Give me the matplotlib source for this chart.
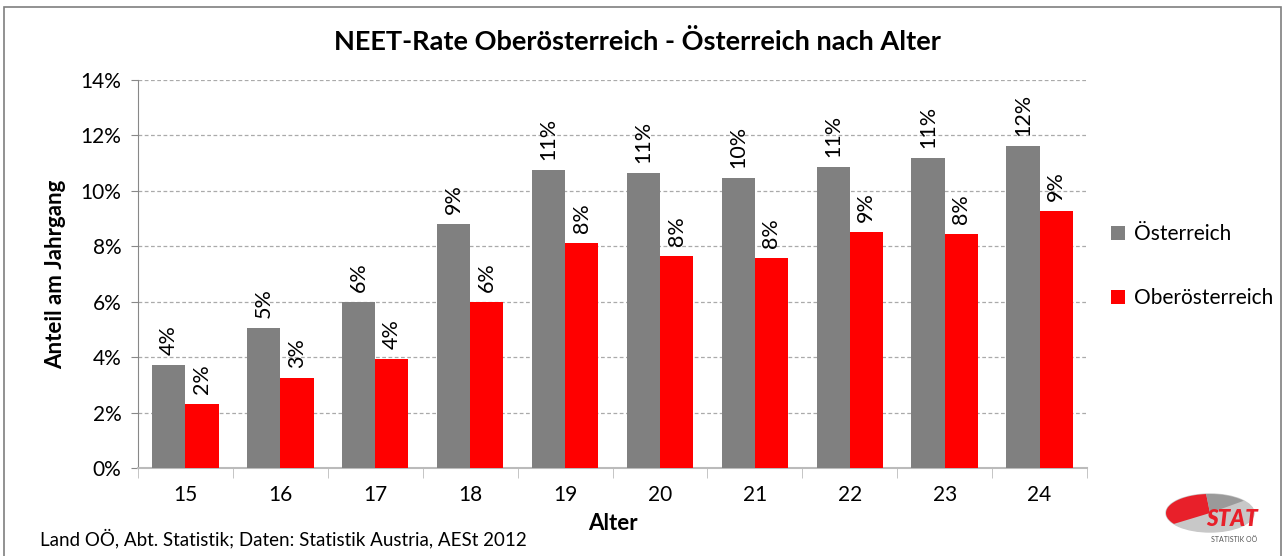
import matplotlib.pyplot as plt
import matplotlib.patches as mpatches
import matplotlib.ticker as mtick
import numpy as np

plt.rcParams['font.family'] = ['Lato', 'DejaVu Sans']

# Daten
alter = ['15', '16', '17', '18', '19', '20', '21', '22', '23', '24']
oesterreich = [3.72, 5.05, 5.99, 8.81, 10.76, 10.65, 10.47, 10.87, 11.19, 11.62]
oberoesterreich = [2.31, 3.25, 3.94, 5.99, 8.12, 7.65, 7.58, 8.52, 8.45, 9.28]
y_ticks = [0, 2, 4, 6, 8, 10, 12, 14]

GRAU = '#808080'
ROT = '#ff0000'

fig = plt.figure(figsize=(12.82, 5.56), dpi=100)
ax = fig.add_axes([138 / 1282, 1 - 468 / 556, (1087 - 138) / 1282, (468 - 80) / 556])

x = np.arange(len(alter))
w = 0.35
b1 = ax.bar(x - w / 2, oesterreich, w, color=GRAU, label='Österreich', zorder=3)
b2 = ax.bar(x + w / 2, oberoesterreich, w, color=ROT, label='Oberösterreich', zorder=3)

# Datenbeschriftung, senkrecht
for bars, vals in ((b1, oesterreich), (b2, oberoesterreich)):
    for bar, v in zip(bars, vals):
        ax.annotate('%d%%' % round(v), (bar.get_x() + bar.get_width() / 2, v),
                    xytext=(0, 7), textcoords='offset points', rotation=90,
                    ha='center', va='bottom', fontsize=15.5)

ax.set_xlim(-0.5, len(alter) - 0.5)
ax.set_ylim(0, 14)
ax.set_yticks(y_ticks)
ax.yaxis.set_major_formatter(mtick.FuncFormatter(lambda v, p: '%d%%' % v))
ax.set_xticks(x)
ax.set_xticklabels(alter)
ax.xaxis.set_minor_locator(mtick.FixedLocator(np.arange(-0.5, len(alter), 1)))
ax.tick_params(axis='x', which='major', length=0, pad=12, labelsize=15)
ax.tick_params(axis='x', which='minor', length=7, color='#bbbbbb', direction='out')
ax.tick_params(axis='y', length=5, color='#888888', labelsize=15, pad=7)

ax.grid(axis='y', color='#aaaaaa', linestyle=(0, (3, 2)), linewidth=0.9, zorder=0)
for s in ('top', 'right'):
    ax.spines[s].set_visible(False)
ax.spines['left'].set_color('#888888')
ax.spines['bottom'].set_color('#bbbbbb')
ax.spines['bottom'].set_linewidth(1.5)

ax.set_ylabel('Anteil am Jahrgang', fontsize=16, fontweight='bold', labelpad=10)
ax.set_xlabel('Alter', fontsize=16, fontweight='bold', labelpad=6)

fig.text(637 / 1282, 1 - 42 / 556,
         'NEET-Rate Oberösterreich - Österreich nach Alter',
         ha='center', va='center', fontsize=19.5, fontweight='bold')

ax.legend(loc='center left', bbox_to_anchor=(1.025, 0.52), frameon=False,
          fontsize=15, handlelength=0.7, handleheight=0.7, labelspacing=2.1,
          handletextpad=0.4, borderpad=0, borderaxespad=0)

fig.text(40 / 1282, 1 - 538 / 556,
         'Land OÖ, Abt. Statistik; Daten: Statistik Austria, AESt 2012',
         ha='left', va='center', fontsize=13.5)

# Rahmen
fig.patches.append(mpatches.Rectangle((4 / 1282, -0.01), 1 - 5 / 1282, 1 - 1 / 556,
                                      transform=fig.transFigure, fill=False,
                                      edgecolor='#7f7f7f', linewidth=1.2))

# Logo STAT (1 Einheit = 1 Pixel)
lax = fig.add_axes([1160 / 1282, 1 - 548 / 556, 115 / 1282, 63 / 556])
lax.set_xlim(0, 115)
lax.set_ylim(0, 63)
lax.axis('off')
cx, cy, rx, ry = 50, 35, 44, 19
lax.add_patch(mpatches.Ellipse((cx, cy), 2 * rx, 2 * ry, color='#c8c8c8'))
for a0, a1, col in ((95, 215, '#e8202a'), (40, 95, '#9a9a9a')):
    t = np.radians(np.linspace(a0, a1, 40))
    px = np.concatenate([[cx], cx + rx * np.cos(t)])
    py = np.concatenate([[cy], cy + ry * np.sin(t)])
    lax.add_patch(mpatches.Polygon(np.column_stack([px, py]), color=col, lw=0))
lax.text(72, 29, 'STAT', ha='center', va='center', fontsize=16, fontweight='heavy',
         style='italic', color='#e8202a')
lax.text(74, 8, 'STATISTIK OÖ', ha='center', va='center', fontsize=5, color='#555555')

plt.savefig('out.png', dpi=100)
